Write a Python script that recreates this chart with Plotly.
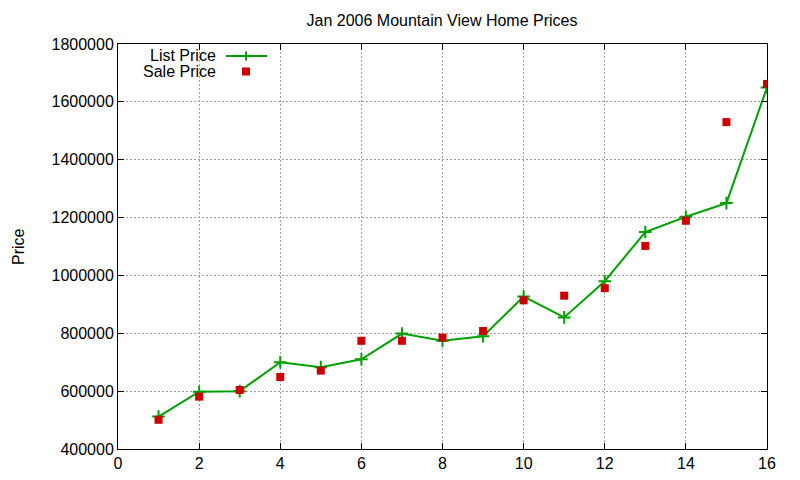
import plotly.graph_objects as go

# Jan 2006 Mountain View home prices
house = list(range(1, 17))
list_price = [512000, 598000, 600000, 700000, 683000, 710000, 799000, 774000,
              790000, 927000, 855000, 980000, 1150000, 1203000, 1250000, 1650000]
sale_price = [501000, 581000, 604000, 649000, 671000, 774000, 774000, 785000,
              808000, 914000, 930000, 956000, 1102000, 1189000, 1530000, 1662000]

x_ticks = list(range(0, 17, 2))
y_ticks = list(range(400000, 1800001, 200000))

green = "#00a000"
red = "#cc0000"
font = "Liberation Sans, Arial, sans-serif"
fsize = 16

fig = go.Figure()
fig.add_trace(go.Scatter(
    x=house, y=list_price, mode="lines+markers", name="List Price",
    line=dict(color=green, width=2),
    marker=dict(symbol="cross-thin-open", size=9, line=dict(color=green, width=2)),
))
fig.add_trace(go.Scatter(
    x=house, y=sale_price, mode="markers", name="Sale Price",
    marker=dict(symbol="square", size=8, color=red),
))

axis_style = dict(
    showline=True, linecolor="black", linewidth=1, mirror="ticks",
    ticks="inside", ticklen=6, tickcolor="black",
    showgrid=True, gridcolor="#a0a0a0", gridwidth=1, griddash="2px,2px",
    zeroline=False, automargin=False,
    tickfont=dict(family=font, size=fsize, color="black"),
)

fig.update_xaxes(range=[0, 16], tickvals=x_ticks, **axis_style)
fig.update_yaxes(range=[400000, 1800000], tickvals=y_ticks,
                 tickformat="d", ticksuffix=" ", **axis_style)

# the page body keeps an 8px margin all round: size the figure to fit inside it
OFF = 8
W, H = 800 - 2 * OFF, 480 - 2 * OFF
L, R, T, B = 118 - OFF, 33 - OFF, 44 - OFF, 31 - OFF


def px(x):
    # window pixel -> paper x
    return (x - OFF - L) / (W - L - R)


def py(y):
    # window pixel -> paper y
    return 1 - (y - OFF - T) / (H - T - B)


# gnuplot-style key: text on the left, sample on the right
shapes = [
    dict(type="line", xref="paper", yref="paper", x0=px(226), x1=px(267),
         y0=py(56), y1=py(56), line=dict(color=green, width=2)),
    dict(type="line", xref="paper", yref="paper", x0=px(246), x1=px(246),
         y0=py(51.5), y1=py(60.5), line=dict(color=green, width=2)),
    dict(type="rect", xref="paper", yref="paper", x0=px(242), x1=px(250),
         y0=py(67.5), y1=py(75.5), fillcolor=red, line=dict(width=0)),
]
txt = dict(family=font, size=fsize, color="black")
annotations = [
    dict(text="List Price", xref="paper", yref="paper", x=px(217), y=py(55.5),
         xanchor="right", yanchor="middle", showarrow=False, font=txt,
         borderpad=0),
    dict(text="Sale Price", xref="paper", yref="paper", x=px(217), y=py(71.5),
         xanchor="right", yanchor="middle", showarrow=False, font=txt,
         borderpad=0),
    dict(text="Price", xref="paper", yref="paper", x=px(18), y=py(247),
         xanchor="center", yanchor="middle", textangle=-90, showarrow=False,
         font=txt),
]

fig.update_layout(
    width=W, height=H,
    margin=dict(l=L, r=R, t=T, b=B),
    paper_bgcolor="white", plot_bgcolor="white",
    showlegend=False,
    title=dict(text="Jan 2006 Mountain View Home Prices", x=(442 - OFF) / W,
               xanchor="center", y=1 - (20 - OFF) / H, yanchor="middle",
               font=txt),
    shapes=shapes, annotations=annotations,
)

fig.write_html("out.html")
